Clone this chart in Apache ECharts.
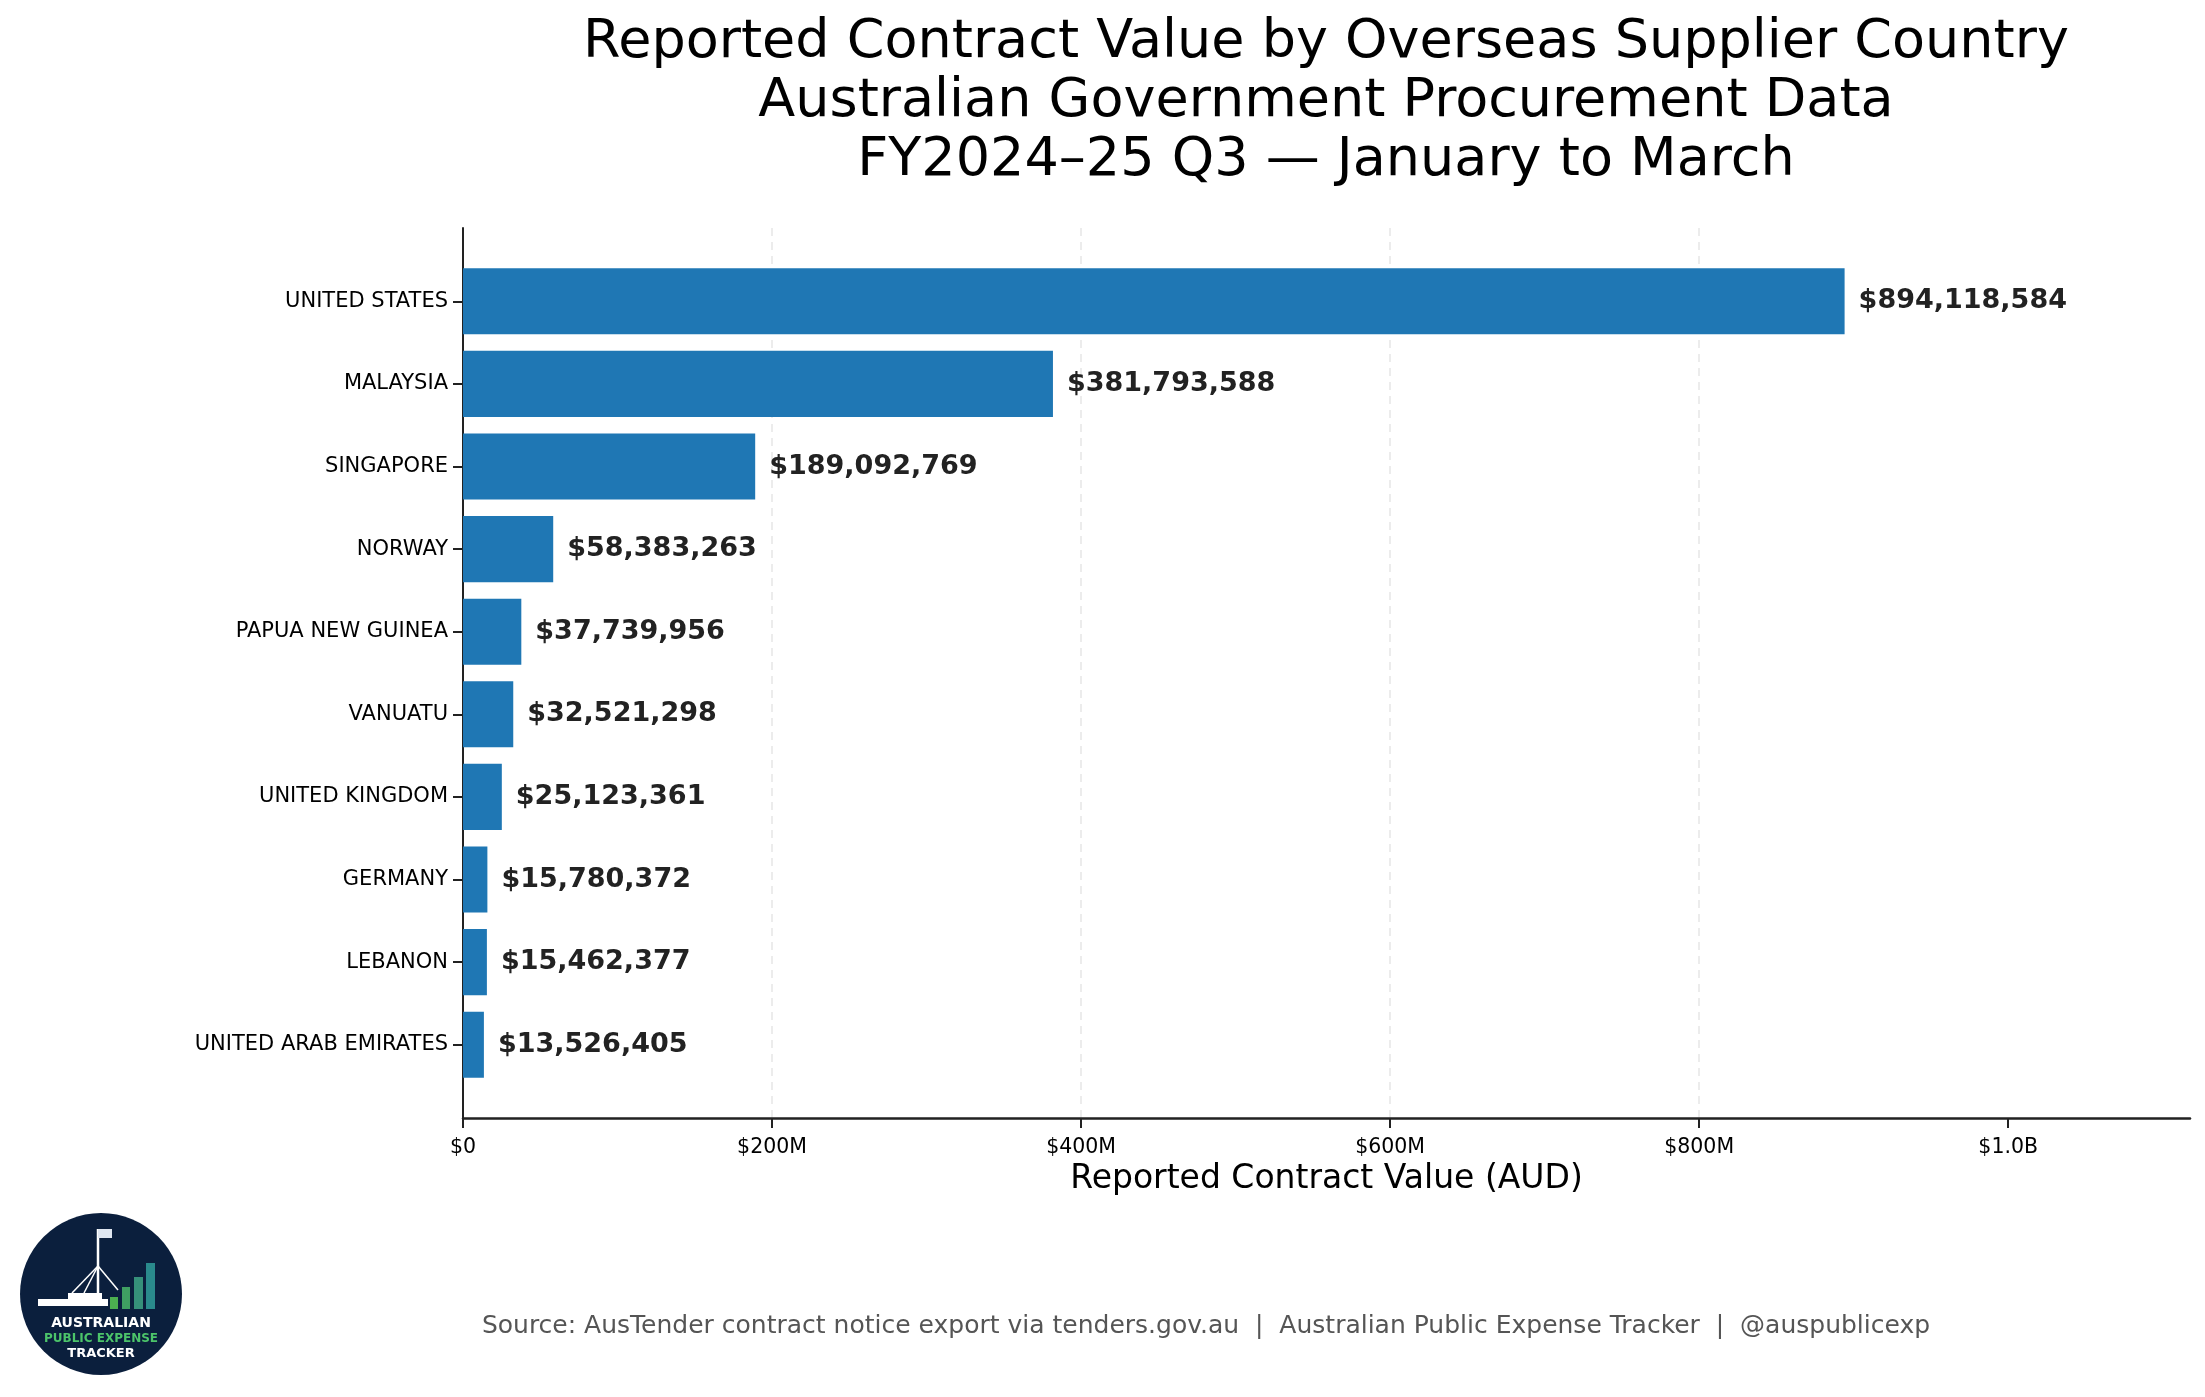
<!DOCTYPE html>
<html>
<head>
<meta charset="utf-8">
<script src="https://cdn.jsdelivr.net/npm/echarts@6/dist/echarts.min.js"></script>
<style>
html, body { margin: 0; padding: 0; background: #fff; }
#chart { width: 2205px; height: 1397px; }
</style>
</head>
<body>
<div id="chart"></div>
<script>
// data
var countries = ['UNITED STATES', 'MALAYSIA', 'SINGAPORE', 'NORWAY', 'PAPUA NEW GUINEA',
	'VANUATU', 'UNITED KINGDOM', 'GERMANY', 'LEBANON', 'UNITED ARAB EMIRATES'];
var values = [894118584, 381793588, 189092769, 58383263, 37739956,
	32521298, 25123361, 15780372, 15462377, 13526405];
var xTicks = [0, 200000000, 400000000, 600000000, 800000000, 1000000000];
var xMax = values[0] * 1.25;

var font = 'DejaVu Sans';

function money(v) {
	if(v === 0) return '$0';
	if(v >= 1e9) return '$' + (v / 1e9).toFixed(1) + 'B';
	return '$' + Math.round(v / 1e6) + 'M';
}

var myChart = echarts.init(document.getElementById('chart'));

// logo bits (decoration only)
var logoBars = [
	{x: 110, y: 1297, w: 8, h: 12, c: '#4caf50'},
	{x: 122, y: 1287, w: 8, h: 22, c: '#3f9f62'},
	{x: 134, y: 1277, w: 9, h: 32, c: '#36907a'},
	{x: 146, y: 1263, w: 9, h: 46, c: '#2a8a8c'}
];
var logo = [{
	type: 'circle',
	shape: {cx: 101, cy: 1294, r: 81},
	style: {fill: '#0b1f3d'}
}, {
	type: 'rect',
	shape: {x: 38, y: 1299, width: 70, height: 7},
	style: {fill: '#ffffff'}
}, {
	type: 'rect',
	shape: {x: 68, y: 1293, width: 34, height: 6},
	style: {fill: '#ffffff'}
}, {
	type: 'line',
	shape: {x1: 98, y1: 1229, x2: 98, y2: 1293},
	style: {stroke: '#ffffff', lineWidth: 2.5}
}, {
	type: 'rect',
	shape: {x: 98, y: 1229, width: 14, height: 9},
	style: {fill: '#dfe6f0'}
}, {
	type: 'line',
	shape: {x1: 98, y1: 1266, x2: 72, y2: 1293},
	style: {stroke: '#ffffff', lineWidth: 1.5}
}, {
	type: 'line',
	shape: {x1: 98, y1: 1266, x2: 84, y2: 1293},
	style: {stroke: '#ffffff', lineWidth: 1.5}
}, {
	type: 'line',
	shape: {x1: 98, y1: 1266, x2: 118, y2: 1290},
	style: {stroke: '#ffffff', lineWidth: 1.5}
}, {
	type: 'text',
	style: {text: 'AUSTRALIAN', x: 101, y: 1323, align: 'center', verticalAlign: 'middle',
		font: 'bold 14px ' + font, fill: '#ffffff'}
}, {
	type: 'text',
	style: {text: 'PUBLIC EXPENSE', x: 101, y: 1339, align: 'center', verticalAlign: 'middle',
		font: 'bold 12px ' + font, fill: '#4cc46a'}
}, {
	type: 'text',
	style: {text: 'TRACKER', x: 101, y: 1354, align: 'center', verticalAlign: 'middle',
		font: 'bold 13px ' + font, fill: '#ffffff'}
}];
for(var i = 0; i < logoBars.length; i++) {
	var b = logoBars[i];
	logo.push({
		type: 'rect',
		shape: {x: b.x, y: b.y, width: b.w, height: b.h},
		style: {fill: b.c}
	});
}

var option = {
	backgroundColor: '#ffffff',
	animation: false,
	textStyle: {fontFamily: font},
	title: {
		text: 'Reported Contract Value by Overseas Supplier Country\nAustralian Government Procurement Data\nFY2024\u201325 Q3 \u2014 January to March',
		left: 1326,
		top: 13,
		padding: 0,
		textAlign: 'center',
		textStyle: {
			fontFamily: font,
			fontSize: 54,
			fontWeight: 'normal',
			lineHeight: 59,
			color: '#000'
		}
	},
	grid: [{
		// full plot frame: spines, grid lines, x ticks
		left: 463, right: 15, top: 228, bottom: 279
	}, {
		// bar bands (inset by the matplotlib-style margins)
		left: 463, right: 15, top: 260, bottom: 311
	}],
	xAxis: [{
		type: 'value',
		gridIndex: 0,
		min: 0,
		max: xMax,
		interval: 200000000,
		name: 'Reported Contract Value (AUD)',
		nameLocation: 'middle',
		nameGap: 41,
		nameTextStyle: {fontFamily: font, fontSize: 33, color: '#000'},
		axisLine: {lineStyle: {color: '#222', width: 2.5}},
		axisTick: {show: true, length: 10, customValues: xTicks, lineStyle: {color: '#222', width: 2}},
		axisLabel: {
			customValues: xTicks,
			margin: 19,
			fontSize: 20.5,
			color: '#000',
			formatter: money
		},
		splitLine: {
			show: true,
			showMinLine: false,
			showMaxLine: false,
			lineStyle: {type: [8, 6], color: '#e6e6e6', width: 1.5}
		}
	}, {
		type: 'value',
		gridIndex: 1,
		min: 0,
		max: xMax,
		show: false,
		splitLine: {show: false}
	}],
	yAxis: [{
		type: 'value',
		gridIndex: 0,
		min: 0,
		max: 1,
		axisLine: {show: true, lineStyle: {color: '#222', width: 2}},
		axisTick: {show: false},
		axisLabel: {show: false},
		splitLine: {show: false}
	}, {
		type: 'category',
		gridIndex: 1,
		inverse: true,
		data: countries,
		axisLine: {show: false},
		axisTick: {show: true, alignWithLabel: true, length: 10, lineStyle: {color: '#222', width: 2}},
		axisLabel: {margin: 15, fontSize: 21, color: '#000'}
	}],
	series: [{
		type: 'bar',
		xAxisIndex: 1,
		yAxisIndex: 1,
		data: values,
		barCategoryGap: '20%',
		itemStyle: {color: '#1f77b4'},
		label: {
			show: true,
			position: 'right',
			distance: 14,
			fontFamily: font,
			fontSize: 27,
			fontWeight: 'bold',
			color: '#222',
			formatter: function(p) {
				return '$' + p.value.toLocaleString('en-US');
			}
		}
	}],
	graphic: logo.concat([{
		type: 'text',
		style: {
			text: 'Source: AusTender contract notice export via tenders.gov.au  |  Australian Public Expense Tracker  |  @auspublicexp',
			x: 1206, y: 1326,
			align: 'center', verticalAlign: 'middle',
			font: '25px ' + font,
			fill: '#555555'
		}
	}])
};
myChart.setOption(option);

window.onresize = function() {
	myChart.resize();
}
</script>
</body>
</html>
